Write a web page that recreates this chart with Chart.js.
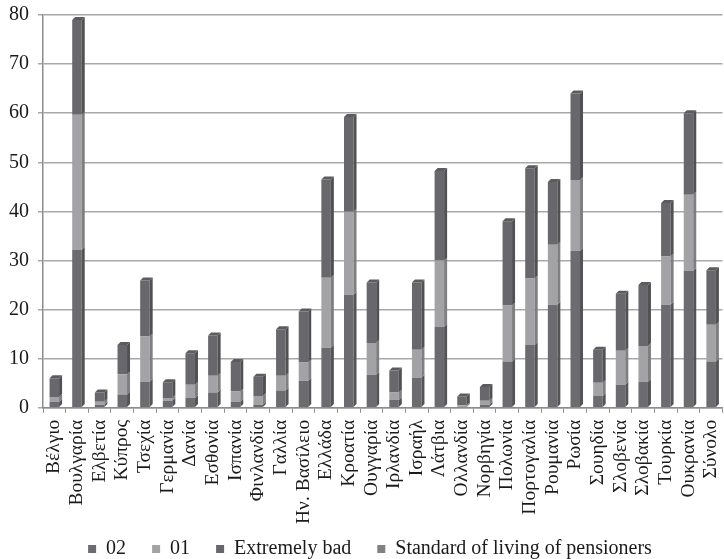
<!DOCTYPE html>
<html>
<head>
<meta charset="utf-8">
<script src="https://cdn.jsdelivr.net/npm/chart.js@4.4.1/dist/chart.umd.min.js"></script>
<style>
  html, body { margin: 0; padding: 0; background: #ffffff; }
  #wrap { width: 724px; height: 559px; position: relative; }
</style>
</head>
<body>
<div id="wrap"><canvas id="c"></canvas></div>
<script>
const categories = ['Βέλγιο','Βουλγαρία','Ελβετία','Κύπρος','Τσεχία','Γερμανία','Δανία','Εσθονία','Ισπανία','Φινλανδία','Γαλλία','Ην. Βασίλειο','Ελλάδα','Κροατία','Ουγγαρία','Ιρλανδία','Ισραήλ','Λάτβια','Ολλανδία','Νορβηγία','Πολωνία','Πορτογαλία','Ρουμανία','Ρωσία','Σουηδία','Σλοβενία','Σλοβακία','Τουρκία','Ουκρανία','Σύνολο'];

const series02 = [1.2, 32.2, 0.6, 2.7, 5.3, 1.4, 2.0, 3.1, 1.2, 0.6, 3.5, 5.5, 12.2, 23.0, 6.7, 1.6, 6.1, 16.5, 0.2, 0.6, 9.4, 12.8, 21.0, 32.0, 2.4, 4.7, 5.3, 21.0, 27.9, 9.4];
const series01 = [1.0, 27.5, 0.6, 4.1, 9.2, 0.6, 2.7, 3.4, 2.1, 1.8, 3.0, 3.7, 14.3, 16.9, 6.5, 1.5, 5.7, 13.5, 0.3, 0.8, 11.4, 13.5, 12.2, 14.4, 2.7, 6.9, 7.3, 9.8, 15.5, 7.5];
const seriesExtremelyBad = [3.8, 19.3, 1.9, 6.0, 11.4, 3.2, 6.4, 8.2, 6.0, 3.9, 9.5, 10.4, 20.0, 19.3, 12.3, 4.5, 13.7, 18.2, 1.8, 2.8, 17.2, 22.5, 12.8, 17.6, 6.7, 11.6, 12.4, 10.9, 16.6, 11.1];
const seriesStandard = [];

const yTicks = [0, 10, 20, 30, 40, 50, 60, 70, 80];

const FONT = "'Liberation Serif', 'Times New Roman', serif";

function shade(hex, f) {
  const n = parseInt(hex.slice(1), 16);
  let r = (n >> 16) & 255, g = (n >> 8) & 255, b = n & 255;
  r = Math.round(r * f); g = Math.round(g * f); b = Math.round(b * f);
  return 'rgb(' + Math.min(255, r) + ',' + Math.min(255, g) + ',' + Math.min(255, b) + ')';
}

const bar3d = {
  id: 'bar3d',
  afterLayout(chart) {
    if (chart.legend) {
      chart.legend.left += 8; chart.legend.right += 8;
      chart.legend.top -= 18; chart.legend.bottom -= 18;
    }
  },
  afterDatasetsDraw(chart) {
    const ctx = chart.ctx;
    const d = 3;
    const n = chart.data.labels.length;
    chart.data.datasets.forEach((ds, di) => {
      const meta = chart.getDatasetMeta(di);
      if (!meta.visible) return;
      meta.data.forEach((el, i) => {
        const v = ds.data[i];
        if (v === undefined || v === null || v === 0) return;
        const p = el.getProps(['x', 'y', 'base', 'width'], true);
        const top = Math.min(p.y, p.base), bot = Math.max(p.y, p.base);
        const xr = p.x + p.width / 2;
        ctx.save();
        ctx.fillStyle = shade(ds.backgroundColor, 0.78);
        ctx.beginPath();
        ctx.moveTo(xr, bot);
        ctx.lineTo(xr, top);
        ctx.lineTo(xr + d, top - d);
        ctx.lineTo(xr + d, bot - d);
        ctx.closePath();
        ctx.fill();
        ctx.restore();
      });
    });
    for (let i = 0; i < n; i++) {
      let topEl = null, topDs = null;
      chart.data.datasets.forEach((ds, di) => {
        const meta = chart.getDatasetMeta(di);
        const v = ds.data[i];
        if (!meta.visible || v === undefined || v === null || v === 0) return;
        topEl = meta.data[i]; topDs = ds;
      });
      if (!topEl) continue;
      const p = topEl.getProps(['x', 'y', 'width'], true);
      const xl = p.x - p.width / 2, xr = p.x + p.width / 2;
      ctx.save();
      ctx.fillStyle = shade(topDs.backgroundColor, 0.88);
      ctx.beginPath();
      ctx.moveTo(xl, p.y);
      ctx.lineTo(xl + d, p.y - d);
      ctx.lineTo(xr + d, p.y - d);
      ctx.lineTo(xr, p.y);
      ctx.closePath();
      ctx.fill();
      ctx.restore();
    }
  }
};

new Chart(document.getElementById('c'), {
  type: 'bar',
  data: {
    labels: categories,
    datasets: [
      { label: '02', data: series02, backgroundColor: '#6c6c70', borderWidth: 0 },
      { label: '01', data: series01, backgroundColor: '#a3a3a6', borderWidth: 0 },
      { label: 'Extremely bad', data: seriesExtremelyBad, backgroundColor: '#68686c', borderWidth: 0 },
      { label: 'Standard of living of pensioners', data: seriesStandard, backgroundColor: '#818184', borderWidth: 0 }
    ]
  },
  options: {
    responsive: true,
    maintainAspectRatio: false,
    animation: false,
    layout: { padding: { top: 0, right: 0, left: 0, bottom: -28 } },
    datasets: { bar: { barPercentage: 0.42, categoryPercentage: 1.0 } },
    scales: {
      x: {
        stacked: true,
        grid: { display: true, drawOnChartArea: false, drawTicks: true, tickLength: 5, color: '#8c8c8c', offset: true },
        border: { display: true, color: '#8c8c8c', width: 1.5 },
        ticks: {
          autoSkip: false, maxRotation: 90, minRotation: 90, padding: 7,
          color: '#1a1a1a', font: { family: FONT, size: 19.5, lineHeight: 0.3 }
        }
      },
      y: {
        stacked: true,
        min: 0, max: 80,
        afterBuildTicks(scale) { scale.ticks = yTicks.map(v => ({ value: v })); },
        grid: { color: '#a8a8a8', lineWidth: 1.5, tickLength: 5, drawTicks: true },
        border: { display: true, color: '#8c8c8c', width: 1.5 },
        ticks: { padding: 9, color: '#1a1a1a', font: { family: FONT, size: 20, lineHeight: 0.6 } }
      }
    },
    plugins: {
      legend: {
        position: 'bottom',
        labels: {
          boxWidth: 8, boxHeight: 8, padding: 26,
          color: '#1a1a1a', font: { family: FONT, size: 20 }
        }
      },
      tooltip: { enabled: false }
    }
  },
  plugins: [bar3d]
});
</script>
</body>
</html>
